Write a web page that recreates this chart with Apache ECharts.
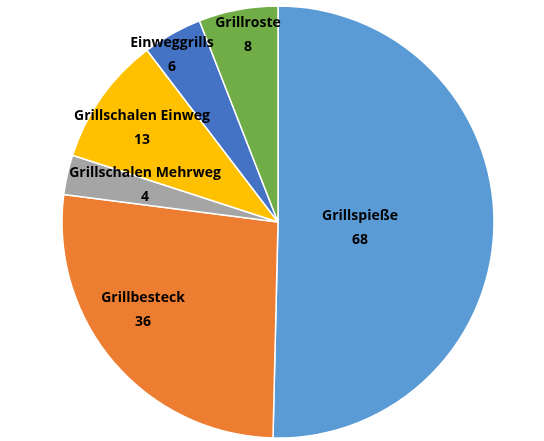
<!DOCTYPE html>
<html><head><meta charset="utf-8">
<script src="https://cdn.jsdelivr.net/npm/echarts@6/dist/echarts.min.js"></script>
<style>html,body{margin:0;padding:0;background:#fff}#c{width:544px;height:441px}</style>
</head><body><div id="c"></div>
<script>
var categories = ['Grillspieße','Grillbesteck','Grillschalen Mehrweg','Grillschalen Einweg','Einweggrills','Grillroste'];
var values = [68,36,4,13,6,8];
var colors = ['#5B9BD5','#ED7D31','#A5A5A5','#FFC000','#4472C4','#70AD47'];
// label offsets from pie centre (style only)
var labelOffsets = [[82,6],[-135,88],[-133,-37],[-136,-94],[-106,-167],[-30,-187]];
var cx = 278, cy = 222, R = 216;
var chart = echarts.init(document.getElementById('c'));
chart.setOption({
  animation:false,
  series:[{
    type:'pie',
    center:[cx,cy],
    radius:R,
    startAngle:90,
    clockwise:true,
    color:colors,
    itemStyle:{borderColor:'#fff',borderWidth:1.5},
    label:{position:'inside',formatter:'{b}\n{c}',color:'#000',fontWeight:'bold',fontSize:14,
      fontFamily:'Open Sans, Liberation Sans, sans-serif',lineHeight:24,align:'center'},
    labelLine:{show:false},
    labelLayout:function(p){
      var o = labelOffsets[p.dataIndex];
      return {x:cx+o[0], y:cy+o[1], align:'center', verticalAlign:'middle'};
    },
    data:categories.map(function(n,i){return {name:n,value:values[i]};})
  }]
});
</script></body></html>
